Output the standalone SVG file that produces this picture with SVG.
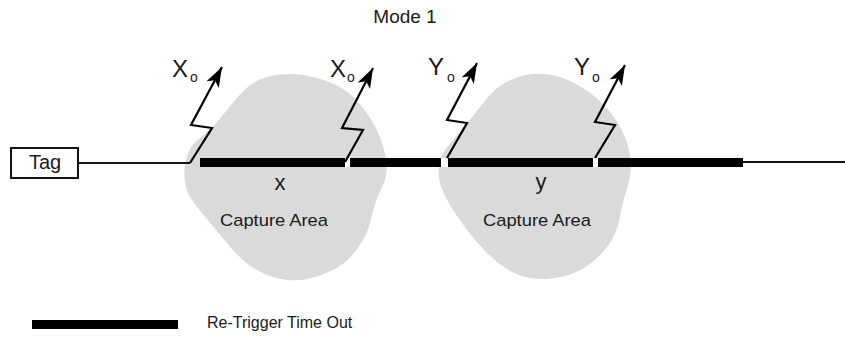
<svg xmlns="http://www.w3.org/2000/svg" width="845" height="337" viewBox="0 0 845 337">
<style>
text{font-family:"Liberation Sans",Arial,sans-serif;fill:#1a1a1a}
.blob{fill:#dadada;stroke:none}
.bar{fill:#000}
.gap{fill:#fff}
.thin{stroke:#111;stroke-width:2;fill:none}
.bolt{stroke:#000;stroke-width:2.2;fill:none;stroke-linejoin:miter;marker-end:url(#ah)}
.lbl{font-size:24px}
.sub{font-size:14px}
</style>
<defs>
<marker id="ah" markerUnits="userSpaceOnUse" markerWidth="22" markerHeight="14" refX="20" refY="7" orient="auto">
<path d="M0,0 L20,7 L0,14 L5,7 Z" fill="#000"/>
</marker>
</defs>
<g id="title"><text x="405" y="23" font-size="19" text-anchor="middle">Mode 1</text></g>
<g id="capture-x">
<path class="blob" d="M259.5,79.5 Q267,76 280,74.5 Q293,73 306.5,75.5 Q320,78 331.5,83 Q343,88 350,94 Q357,100 363.5,108.5 Q370,117 374,124.5 Q378,132 381,140 Q384,148 385.5,156.5 Q387,165 386.5,172.5 Q386,180 382,187.5 Q378,195 375.5,202.5 Q373,210 370.5,221 Q368,232 361.5,242.5 Q355,253 347.5,260 Q340,267 328.5,272 Q317,277 307,279 Q297,281 287,280 Q277,279 267,275 Q257,271 248.5,264.5 Q240,258 232.5,249.5 Q225,241 218,232.5 Q211,224 204,215.5 Q197,207 192,200 Q187,193 185.5,185 Q184,177 184.5,168.5 Q185,160 188,153 Q191,146 196.5,141 Q202,136 208,131 Q214,126 220.5,118 Q227,110 233.5,102 Q240,94 246,88.5 Q252,83 259.5,79.5 Z"/>
<text x="280" y="190" font-size="22" text-anchor="middle">x</text>
<text x="274" y="226" font-size="17" text-anchor="middle" textLength="108" lengthAdjust="spacingAndGlyphs">Capture Area</text>
</g>
<g id="capture-y">
<path class="blob" d="M508.5,81 Q520,75 533.5,74 Q547,73 558.5,76.5 Q570,80 583.5,88.5 Q597,97 607,108.5 Q617,120 622.5,131.5 Q628,143 630,155 Q632,167 629.5,178.5 Q627,190 624.5,197.5 Q622,205 619.5,219 Q617,233 608.5,245 Q600,257 588.5,265 Q577,273 563.5,276.5 Q550,280 535,278.5 Q520,277 508.5,270 Q497,263 487,253 Q477,243 467,230 Q457,217 450,205 Q443,193 440.5,185 Q438,177 439,167 Q440,157 445,150 Q450,143 460,131.5 Q470,120 476.5,111.5 Q483,103 490,95 Q497,87 508.5,81 Z"/>
<text x="541" y="189" font-size="22" text-anchor="middle">y</text>
<text x="537" y="226" font-size="17" text-anchor="middle" textLength="108" lengthAdjust="spacingAndGlyphs">Capture Area</text>
</g>
<g id="tag">
<rect x="11" y="148" width="67" height="30" fill="#fff" stroke="#111" stroke-width="2"/>
<text x="45" y="169" font-size="20" text-anchor="middle">Tag</text>
</g>
<g id="connectors">
<line class="thin" x1="78" y1="163" x2="190" y2="163"/>
<line class="thin" x1="743" y1="162" x2="845" y2="162"/>
<rect class="gap" x="345" y="158" width="5" height="9"/>
<rect class="gap" x="441" y="158" width="7" height="9"/>
<rect class="gap" x="593" y="158" width="5" height="9"/>
<rect class="bar" x="200" y="158" width="145" height="9"/>
<rect class="bar" x="350" y="158" width="91" height="9"/>
<rect class="bar" x="448" y="158" width="145" height="9"/>
<rect class="bar" x="598" y="158" width="145" height="9"/>
<polyline class="bolt" points="190,163 212,128 191,125 222,67"/>
<polyline class="bolt" points="345,162 363,130 342,128 373,68"/>
<polyline class="bolt" points="447,158 467,123 447,120 477,63"/>
<polyline class="bolt" points="595,158 615,125 595,122 625,65"/>
</g>
<g id="labels">
<text x="172" y="77" class="lbl">X</text><text x="190" y="82" class="sub">o</text>
<text x="330" y="77" class="lbl">X</text><text x="347" y="82" class="sub">o</text>
<text x="428" y="75" class="lbl">Y</text><text x="447" y="82" class="sub">o</text>
<text x="574" y="75" class="lbl">Y</text><text x="592" y="82" class="sub">o</text>
</g>
<g id="legend">
<rect class="bar" x="32" y="320" width="146" height="9"/>
<text x="207" y="328" font-size="16">Re-Trigger Time Out</text>
</g>
</svg>
